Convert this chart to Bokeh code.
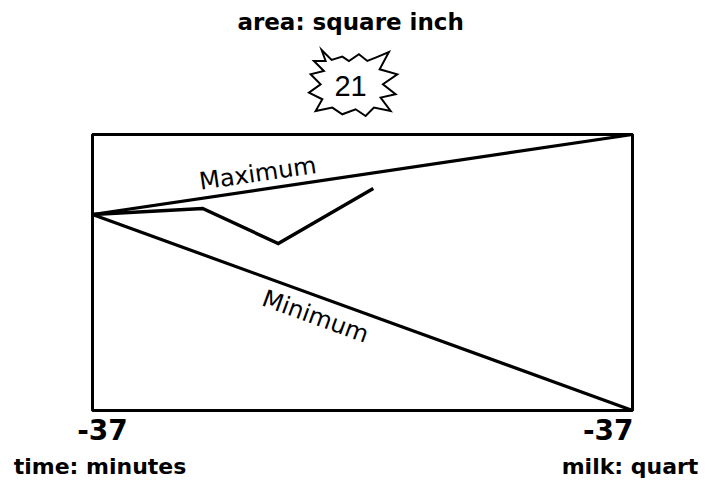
from bokeh.plotting import figure
from bokeh.models import Range1d
from bokeh.core.properties import value
from bokeh.embed import file_html
from bokeh.resources import INLINE

# ---- data ----
time_pts = [0.0, 2.04, 3.44, 5.20]
milk_pts = [7.10, 7.32, 6.05, 8.04]
bound_x = [0, 10]
max_y = [7.10, 10.0]
min_y = [7.10, 0.0]
tick_labels = ["-37", "-37"]
title_text = "area: square inch"
badge_value = "21"
x_name = "time: minutes"
y_name = "milk: quart"
max_name = "Maximum"
min_name = "Minimum"

# ---- geometry (pixels per data unit) ----
PX_X = 54.0
PX_Y = 27.6
W, H = 708, 483
left_px, top_px = 92, 134

p = figure(width=W, height=H,
           x_range=Range1d(-left_px / PX_X, (W - left_px) / PX_X),
           y_range=Range1d(-(H - top_px - 10 * PX_Y) / PX_Y, 10 + top_px / PX_Y),
           min_border=0, toolbar_location=None, output_backend="svg",
           x_axis_type=None, y_axis_type=None)
p.outline_line_color = None
p.background_fill_color = "white"
p.border_fill_color = "white"

FONT = value("DejaVu Sans")

# frame box
p.quad(left=[bound_x[0]], right=[bound_x[1]], bottom=[min(min_y)], top=[max(max_y)],
       fill_color=None, line_color="black", line_width=3)

# bounds and series
p.line(bound_x, max_y, line_color="black", line_width=3.2)
p.line(bound_x, min_y, line_color="black", line_width=3.2)
p.line(time_pts, milk_pts, line_color="black", line_width=3.4, line_join="miter")

# line labels
p.text(x=[3.06], y=[8.59], text=[max_name], angle=8.3, angle_units="deg",
       text_align="center", text_baseline="middle", text_font=FONT,
       text_font_size="24px", text_color="black")
p.text(x=[4.13], y=[3.41], text=[min_name], angle=-20, angle_units="deg",
       text_align="center", text_baseline="middle", text_font=FONT,
       text_font_size="24px", text_color="black")

# tick labels
p.text(x=[bound_x[0]], y=[-0.69], text=[tick_labels[0]], x_offset=10,
       text_align="center", text_baseline="middle", text_font=FONT,
       text_font_size="28px", text_font_style="bold", text_color="black")
p.text(x=[bound_x[1]], y=[-0.69], text=[tick_labels[1]], x_offset=1,
       text_align="right", text_baseline="middle", text_font=FONT,
       text_font_size="28px", text_font_style="bold", text_color="black")

# axis names
p.text(x=[-1.46], y=[-2.03], text=[x_name],
       text_align="left", text_baseline="middle", text_font=FONT,
       text_font_size="22px", text_font_style="bold", text_color="black")
p.text(x=[11.22], y=[-2.03], text=[y_name],
       text_align="right", text_baseline="middle", text_font=FONT,
       text_font_size="22px", text_font_style="bold", text_color="black")

# title
p.text(x=[4.78], y=[14.06], text=[title_text],
       text_align="center", text_baseline="middle", text_font=FONT,
       text_font_size="23px", text_font_style="bold", text_color="black")

# starburst badge (outline offsets in pixels, y downward)
cx, cy = 4.78, 11.82
burst = [(-29, -34.3), (-19, -24.3), (-8.3, -27.7), (-1.7, -23.3), (8.3, -30),
         (16.7, -23.3), (25, -26.7), (38.3, -32.3), (29, -15), (46.7, -10),
         (32.3, 0), (45, 10), (30, 13.3), (40, 26.7), (23.3, 23.3), (15, 31.7),
         (5, 25), (-8.3, 30), (-18.3, 23.3), (-35, 26.7), (-28.3, 15),
         (-41.7, 8.3), (-30, 0), (-40, -10), (-26.7, -13.3), (-36.7, -23.3),
         (-25, -23.3)]
sx = [cx + dx / PX_X for dx, dy in burst]
sy = [cy - dy / PX_Y for dx, dy in burst]
p.patch(sx, sy, fill_color="white", line_color="black", line_width=2, line_join="miter")
p.text(x=[cx], y=[cy - 0.06], text=[badge_value],
       text_align="center", text_baseline="middle", text_font=value("Liberation Sans"),
       text_font_size="29px", text_color="black")

open("out.html", "w").write(file_html(p, INLINE))
